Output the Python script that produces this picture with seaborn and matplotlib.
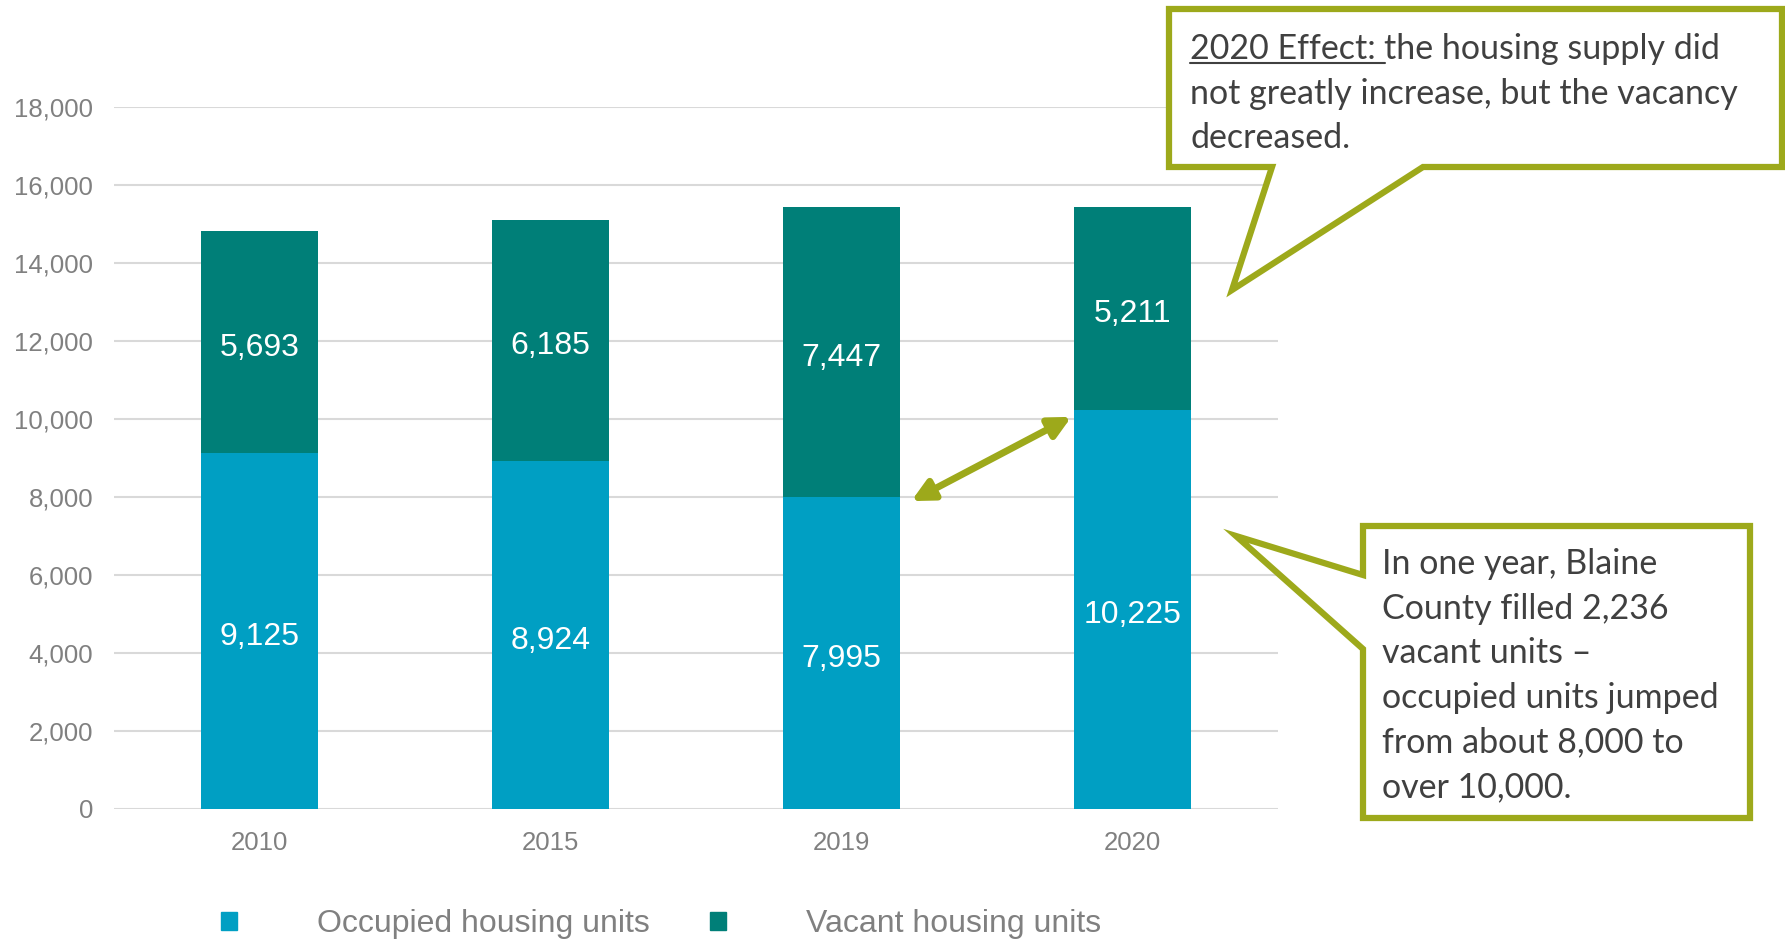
import matplotlib
matplotlib.use('Agg')
import pandas as pd
import matplotlib.pyplot as plt
import seaborn as sns
from matplotlib.patches import Polygon, FancyArrowPatch, Patch

# ---------------------------------------------
# Data
# ---------------------------------------------
years = ['2010', '2015', '2019', '2020']
occupied = [9125, 8924, 7995, 10225]
vacant = [5693, 6185, 7447, 5211]
y_ticks = list(range(0, 18001, 2000))
legend_labels = ['Occupied housing units', 'Vacant housing units']

note_top_head = '2020 Effect: '
note_top = ['the housing supply did', 'not greatly increase, but the vacancy', 'decreased.']
note_bottom = ['In one year, Blaine', 'County filled 2,236', 'vacant units \u2013',
               'occupied units jumped', 'from about 8,000 to', 'over 10,000.']

OCC = '#009FC3'
VAC = '#007F78'
OLIVE = '#9DA91B'
GRAY = '#808080'
DARK = '#404040'

df = pd.DataFrame({'year': years, 'occupied': occupied, 'vacant': vacant})
df['total'] = df['occupied'] + df['vacant']

sns.set_style('white')
plt.rcParams['font.family'] = ['Liberation Sans', 'DejaVu Sans']

W, H = 1785, 939
fig = plt.figure(figsize=(W / 100, H / 100), dpi=100)
ax = fig.add_axes([114 / W, 130 / H, (1278 - 114) / W, (809 - 107) / H])

# stacked bars: totals first (vacant colour), occupied drawn over them
sns.barplot(data=df, x='year', y='total', color=VAC, width=0.4, saturation=1,
            errorbar=None, linewidth=0, ax=ax)
sns.barplot(data=df, x='year', y='occupied', color=OCC, width=0.4, saturation=1,
            errorbar=None, linewidth=0, ax=ax)

ax.set_xlim(-0.5, 3.5)
ax.set_ylim(0, 18000)
ax.set_yticks(y_ticks)
ax.set_yticklabels([f'{v:,}' for v in y_ticks])
ax.set_xlabel('')
ax.set_ylabel('')
ax.yaxis.grid(True, color='#D9D9D9', lw=1.5)
ax.set_axisbelow(True)
sns.despine(ax=ax, left=True, bottom=True)
ax.tick_params(axis='y', length=0, colors=GRAY, labelsize=18.5, pad=15)
ax.tick_params(axis='x', length=0, colors=GRAY, labelsize=18.5, pad=16)

for i, (o, v) in enumerate(zip(occupied, vacant)):
    ax.annotate(f'{o:,}', (i, o / 2), xytext=(0, -4), textcoords='offset points',
                color='white', fontsize=23, ha='center', va='center')
    ax.annotate(f'{v:,}', (i, o + v / 2), xytext=(0, -4), textcoords='offset points',
                color='white', fontsize=23, ha='center', va='center')

# double arrow between 2019 and 2020 occupied tops
arr = FancyArrowPatch((2 + 0.24, occupied[2] - 100), (3 - 0.21, occupied[3] - 170),
                      arrowstyle='<|-|>', mutation_scale=32, color=OLIVE, lw=5,
                      shrinkA=0, shrinkB=0)
ax.add_patch(arr)

# overlay in pixel coordinates for callouts
ov = fig.add_axes([0, 0, 1, 1], zorder=5)
ov.set_xlim(0, W)
ov.set_ylim(H, 0)
ov.axis('off')
ov.patch.set_alpha(0)

box1 = [(1169, 9), (1782, 9), (1782, 167), (1423, 167), (1232, 290), (1272, 167), (1169, 167)]
box2 = [(1363, 526), (1750, 526), (1750, 818), (1363, 818), (1363, 649), (1236, 536), (1363, 575)]
for pts in (box1, box2):
    ov.add_patch(Polygon(pts, closed=True, facecolor='white', edgecolor=OLIVE,
                         lw=4.5, joinstyle='miter'))

tfont = dict(family=['Lato', 'DejaVu Sans'], fontsize=24.5, color=DARK, va='baseline')
renderer = fig.canvas.get_renderer()
head = ov.text(1190, 59, note_top_head, **tfont)
bb = head.get_window_extent(renderer)
ov.plot([1190, bb.x1], [63, 63], color=DARK, lw=1.5)
ov.text(bb.x1, 59, note_top[0], **tfont)
for k, line in enumerate(note_top[1:]):
    ov.text(1190, 104 + 44.5 * k, line, **tfont)
for k, line in enumerate(note_bottom):
    ov.text(1382, 574 + 44.6 * k, line, **tfont)

fig.legend(handles=[Patch(color=OCC), Patch(color=VAC)], labels=legend_labels,
           loc='center left', bbox_to_anchor=(221 / W, 1 - 924 / H), frameon=False,
           ncol=2, fontsize=23, handlelength=0.5, handleheight=0.5,
           handletextpad=2.5, columnspacing=1.9, borderpad=0, borderaxespad=0,
           labelcolor=GRAY)

fig.savefig('out.png', dpi=100)
